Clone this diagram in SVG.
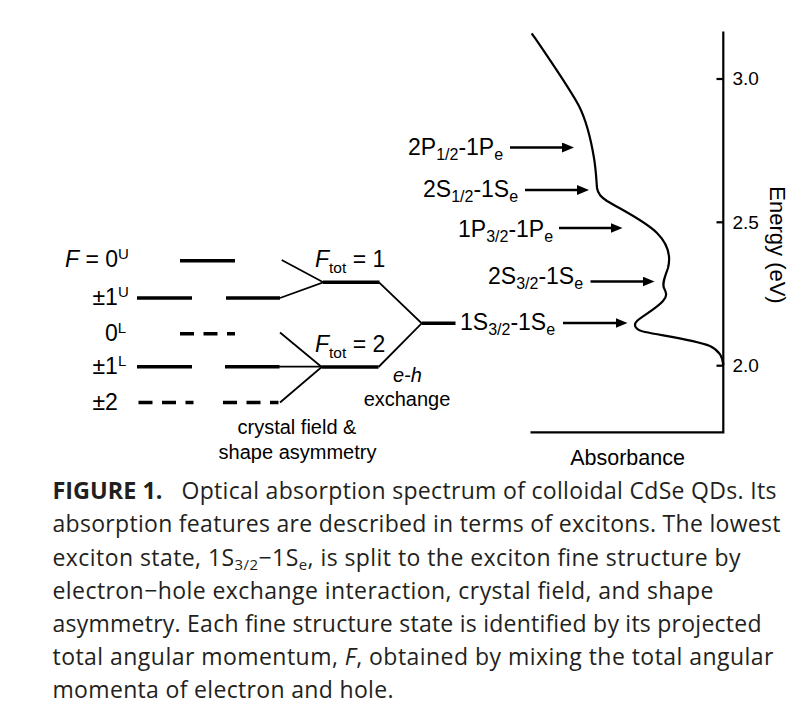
<svg xmlns="http://www.w3.org/2000/svg" width="800" height="706" viewBox="0 0 800 706">
<style>
.t{font-family:"Liberation Sans",Arial,sans-serif;fill:#000}
.lv{stroke:#000;stroke-width:3.6;fill:none}
.dl{stroke:#000;stroke-width:3.6;fill:none;stroke-dasharray:14 9.5}
.fn{stroke:#000;stroke-width:1.8;fill:none}
.ar{stroke:#000;stroke-width:2.6;fill:none;marker-end:url(#ah)}
.ax{stroke:#000;stroke-width:2.2;fill:none}
.cap{font-family:"Open Sans","Noto Sans",sans-serif;font-size:23px;fill:#231f20}
</style>
<defs>
<marker id="ah" markerUnits="userSpaceOnUse" markerWidth="13" markerHeight="10" refX="2" refY="5" orient="auto">
<path d="M0,0 L12,5 L0,10 z" fill="#000"/>
</marker>
</defs>
<rect width="800" height="706" fill="#fff"/>

<g id="state-labels" class="t" font-size="23">
<text x="65" y="267"><tspan font-style="italic">F</tspan> = 0<tspan font-size="15" dy="-8">U</tspan></text>
<text x="92.5" y="305">±1<tspan font-size="15" dy="-8">U</tspan></text>
<text x="105" y="341">0<tspan font-size="15" dy="-8">L</tspan></text>
<text x="92.5" y="374">±1<tspan font-size="15" dy="-8">L</tspan></text>
<text x="92.5" y="410">±2</text>
</g>

<g id="levels">
<line class="lv" x1="180" y1="260.7" x2="235" y2="260.7"/>
<line class="lv" x1="137" y1="298" x2="192" y2="298"/>
<line class="lv" x1="226" y1="298" x2="280" y2="298"/>
<line class="dl" x1="180" y1="333.7" x2="235" y2="333.7"/>
<line class="lv" x1="137" y1="366.7" x2="192" y2="366.7"/>
<line class="lv" x1="225" y1="366.7" x2="279.5" y2="366.7"/>
<line class="dl" x1="138.5" y1="402.5" x2="193.5" y2="402.5"/>
<line class="dl" x1="223" y1="402.5" x2="278.5" y2="402.5"/>
<line class="lv" x1="323" y1="282.3" x2="379.5" y2="282.3"/>
<line class="lv" x1="321.5" y1="367" x2="378.5" y2="367"/>
<line class="lv" x1="421.7" y1="323.3" x2="455.5" y2="323.3"/>
</g>

<g id="connectors">
<polyline class="fn" points="281.7,260 323.3,282.3 280,298"/>
<polyline class="fn" points="280,332.5 321.7,367 280,402.5"/>
<line class="fn" x1="279" y1="366.7" x2="321.7" y2="366.7"/>
<polyline class="fn" points="379,282.3 421.7,323.3 378.5,367"/>
</g>

<g id="fine-labels" class="t">
<text x="315" y="267" font-size="23"><tspan font-style="italic">F</tspan><tspan font-size="15.5" dy="6">tot</tspan><tspan dy="-6"> = 1</tspan></text>
<text x="315" y="352" font-size="23"><tspan font-style="italic">F</tspan><tspan font-size="15.5" dy="6">tot</tspan><tspan dy="-6"> = 2</tspan></text>
<text x="393" y="382" font-size="20" font-style="italic">e-h</text>
<text x="407" y="406" font-size="20" text-anchor="middle">exchange</text>
<text x="297" y="434" font-size="20" text-anchor="middle">crystal field &amp;</text>
<text x="297.5" y="459" font-size="20" text-anchor="middle">shape asymmetry</text>
</g>

<g id="transitions" class="t" font-size="23">
<text x="408" y="155">2P<tspan font-size="16" dy="5">1/2</tspan><tspan dy="-5">-1P</tspan><tspan font-size="16" dy="5">e</tspan></text>
<text x="423" y="197">2S<tspan font-size="16" dy="5">1/2</tspan><tspan dy="-5">-1S</tspan><tspan font-size="16" dy="5">e</tspan></text>
<text x="458" y="237">1P<tspan font-size="16" dy="5">3/2</tspan><tspan dy="-5">-1P</tspan><tspan font-size="16" dy="5">e</tspan></text>
<text x="488" y="283.5">2S<tspan font-size="16" dy="5">3/2</tspan><tspan dy="-5">-1S</tspan><tspan font-size="16" dy="5">e</tspan></text>
<text x="460" y="330">1S<tspan font-size="16" dy="5">3/2</tspan><tspan dy="-5">-1S</tspan><tspan font-size="16" dy="5">e</tspan></text>
</g>

<g id="arrows">
<line class="ar" x1="510" y1="147.5" x2="564" y2="147.5"/>
<line class="ar" x1="525" y1="190" x2="579" y2="190"/>
<line class="ar" x1="559" y1="228" x2="612.5" y2="228"/>
<line class="ar" x1="590.5" y1="281.5" x2="644.5" y2="281.5"/>
<line class="ar" x1="563" y1="323" x2="617.5" y2="323"/>
</g>

<g id="spectrum">
<path class="ax" d="M723.3,31.5 V432.3 H530.5"/>
<line class="ax" x1="716.5" y1="79" x2="723.3" y2="79"/>
<line class="ax" x1="716.5" y1="222.3" x2="723.3" y2="222.3"/>
<line class="ax" x1="716.5" y1="365.7" x2="723.3" y2="365.7"/>
<g class="t" font-size="19">
<text x="732.5" y="85">3.0</text>
<text x="732.5" y="229">2.5</text>
<text x="732.5" y="372">2.0</text>
</g>
<text class="t" font-size="22" text-anchor="middle" transform="translate(770,245) rotate(90)">Energy (eV)</text>
<text class="t" font-size="21.5" x="627.5" y="465" text-anchor="middle">Absorbance</text>
<path class="ax" d="M531.7,33.3 C550,60 568,86 579,106 C586,120 591,140 594,158 C596,170 596.5,182 597,188 C598,194 601,197 607,201 C622,210 645,221 657,233 C668,244 671,256 668,268 C665,277 662,283 664,288 C666,292 668,296 663,301 C656,309 642,316 637,321 C633,325 635,330 645,332 C665,336 695,340 710,346 C720,351 723,358 723.3,365"/>
</g>

<g id="caption" class="cap">
<text x="52.5" y="499" font-weight="bold" textLength="110" lengthAdjust="spacingAndGlyphs">FIGURE 1.</text>
<text x="181.5" y="499" textLength="595" lengthAdjust="spacing">Optical absorption spectrum of colloidal CdSe QDs. Its</text>
<text x="52.5" y="532" textLength="728" lengthAdjust="spacing">absorption features are described in terms of excitons. The lowest</text>
<text x="52.5" y="565.5" textLength="688" lengthAdjust="spacing">exciton state, 1S<tspan font-size="15" dy="4">3/2</tspan><tspan dy="-4">−1S</tspan><tspan font-size="15" dy="4">e</tspan><tspan dy="-4">, is split to the exciton fine structure by</tspan></text>
<text x="52.5" y="598.5" textLength="661" lengthAdjust="spacing">electron−hole exchange interaction, crystal field, and shape</text>
<text x="52.5" y="632" textLength="709" lengthAdjust="spacing">asymmetry. Each fine structure state is identified by its projected</text>
<text x="52.5" y="665" textLength="721" lengthAdjust="spacing">total angular momentum, <tspan font-style="italic">F</tspan>, obtained by mixing the total angular</text>
<text x="52.5" y="698" textLength="341" lengthAdjust="spacing">momenta of electron and hole.</text>
</g>
</svg>
